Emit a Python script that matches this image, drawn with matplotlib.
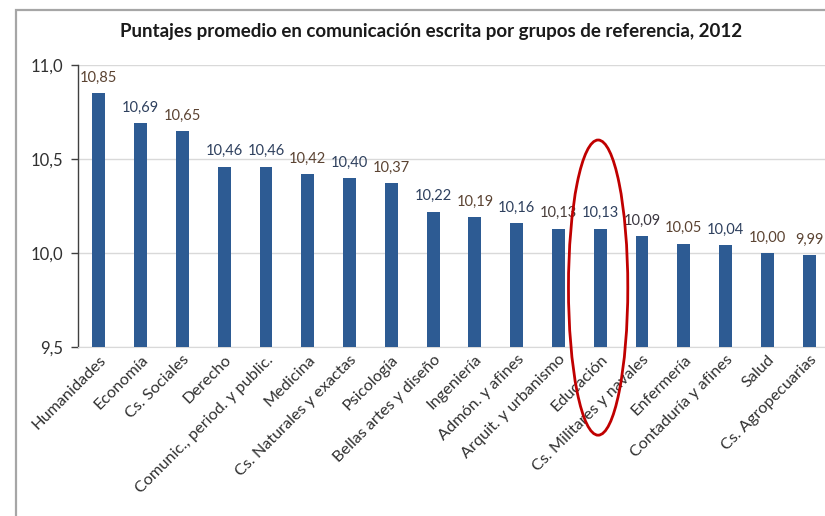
import matplotlib
matplotlib.use("Agg")
import matplotlib.pyplot as plt
from matplotlib.patches import Ellipse, Rectangle
from matplotlib.ticker import FuncFormatter

categories = ["Humanidades", "Economía", "Cs. Sociales", "Derecho",
              "Comunic., period. y public.", "Medicina", "Cs. Naturales y exactas",
              "Psicología", "Bellas artes y diseño", "Ingeniería", "Admón. y afines",
              "Arquit. y urbanismo", "Educación", "Cs. Militares y navales",
              "Enfermería", "Contaduría y afines", "Salud", "Cs. Agropecuarias"]
values = [10.85, 10.69, 10.65, 10.46, 10.46, 10.42, 10.40, 10.37, 10.22,
          10.19, 10.16, 10.13, 10.13, 10.09, 10.05, 10.04, 10.00, 9.99]
yticks = [9.5, 10.0, 10.5, 11.0]
title = "Puntajes promedio en comunicación escrita por grupos de referencia, 2012"
highlight = "Educación"

BROWN = "#5b4332"
BLUE = "#2e405e"
label_colors = [BROWN, BLUE, BROWN, BLUE, BLUE, BROWN, BLUE, BROWN, BLUE,
                BROWN, BLUE, "#4a3e3a", BLUE, "#3a3640", BROWN, BLUE, BROWN, BROWN]

plt.rcParams['font.family'] = ['Lato', 'DejaVu Sans']

fig = plt.figure(figsize=(8.25, 5.16), dpi=100)
fig.patch.set_facecolor("white")

# outer frame
fig.patches.append(Rectangle((16/825, -0.2), 1.2, 1.2 - 10/516,
                             transform=fig.transFigure, fill=False,
                             edgecolor="#a6a6a6", lw=1.6))

ax = fig.add_axes([78/825, 1 - 347/516, 752/825, (347 - 65)/516])
x = list(range(len(categories)))
ax.bar(x, values, width=0.31, color="#2d5b93", zorder=3)
ax.set_xlim(-0.5, 17.5)
ax.set_ylim(9.5, 11.0)
ax.set_yticks(yticks)
ax.yaxis.set_major_formatter(FuncFormatter(lambda v, p: f"{v:.1f}".replace(".", ",")))
ax.grid(axis="y", color="#d9d9d9", lw=1, zorder=0)
ax.set_axisbelow(True)

for s in ["top", "right"]:
    ax.spines[s].set_visible(False)
ax.spines["left"].set_color("#404040")
ax.spines["left"].set_linewidth(1.0)
ax.spines["bottom"].set_color("#d9d9d9")

ax.tick_params(axis="y", direction="out", length=5, width=1, color="#404040",
               labelsize=12, labelcolor="#303030", pad=6)
ax.tick_params(axis="x", length=0, pad=4)
ax.set_xticks(x)
ax.set_xticklabels(categories, rotation=45, ha="right", rotation_mode="anchor",
                   fontsize=11.7, color="#303030")

for xi, v, c in zip(x, values, label_colors):
    ax.annotate(f"{v:.2f}".replace(".", ","), (xi, v), xytext=(0, 6),
                textcoords="offset points", ha="center", va="bottom",
                fontsize=10.5, color=c)

hi = categories.index(highlight)
ell = Ellipse((hi - 0.05, 9.816), width=1.42, height=1.57, fill=False,
              edgecolor="#c00000", lw=2, clip_on=False, zorder=5)
ax.add_patch(ell)

fig.text(431/825, 1 - 32/516, title, ha="center", va="center",
         fontsize=13.5, fontweight="bold", color="#1a1a1a")

fig.savefig("out.png", dpi=100)
